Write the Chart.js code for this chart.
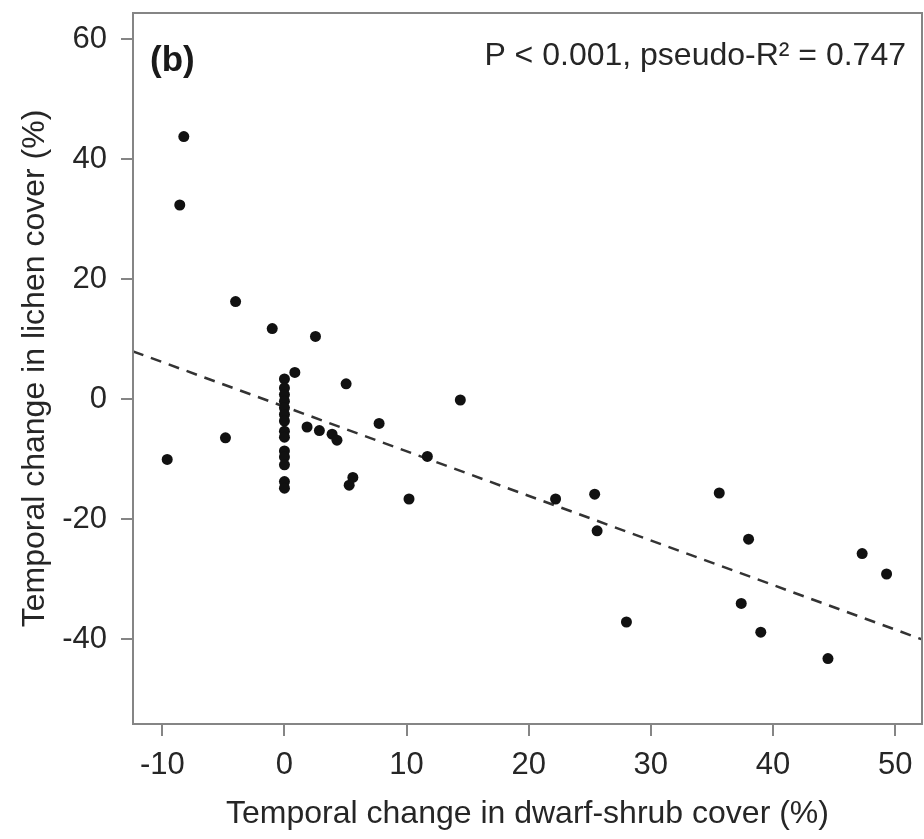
<!DOCTYPE html>
<html>
<head>
<meta charset="utf-8">
<script src="https://cdn.jsdelivr.net/npm/chart.js@4.4.1/dist/chart.umd.min.js"></script>
<style>
  html, body { margin: 0; padding: 0; background: #ffffff; }
  #wrap { width: 924px; height: 839px; }
</style>
</head>
<body>
<div id="wrap"><canvas id="c" width="924" height="839"></canvas></div>
<script>
// ---- data ----
const shrubChange = [
  -8.24, -8.57, -4.0, -1.0, 2.54, 0.85, 5.05, -4.83, -9.6,
  1.85, 2.86, 3.9, 4.3, 5.6, 5.3, 7.75, 14.4, 11.7, 10.2,
  22.2, 25.4, 25.6, 28.0, 35.6, 38.0, 37.4, 39.0, 44.5, 47.3, 49.3,
  0, 0, 0, 0, 0, 0, 0, 0, 0, 0, 0, 0, 0, 0
];
const lichenChange = [
  43.8, 32.4, 16.3, 11.8, 10.5, 4.5, 2.6, -6.4, -10.0,
  -4.6, -5.2, -5.8, -6.8, -13.0, -14.3, -4.0, -0.1, -9.5, -16.6,
  -16.6, -15.8, -21.9, -37.1, -15.6, -23.3, -34.0, -38.8, -43.2, -25.7, -29.1,
  3.4, 1.9, 0.8, -0.3, -1.4, -2.5, -3.6, -5.3, -6.3, -8.6, -9.6, -10.9, -13.7, -14.8
];
const fitX = [-12.4, 52.2];
const fitY = [8.0, -40.0];
const xTicks = [-10, 0, 10, 20, 30, 40, 50];
const yTicks = [-40, -20, 0, 20, 40, 60];
const xTitle = 'Temporal change in dwarf-shrub cover (%)';
const yTitle = 'Temporal change in lichen cover (%)';
const panelLabel = '(b)';
const statsText = 'P < 0.001, pseudo-R\u00B2 = 0.747';

// ---- chart ----
const FAMILY = '"Liberation Sans", Arial, Helvetica, sans-serif';
const AXIS_GREY = '#858585';
const TEXT = '#262626';

const points = shrubChange.map((x, i) => ({ x: x, y: lichenChange[i] }));
const fitLine = fitX.map((x, i) => ({ x: x, y: fitY[i] }));

const frameAndText = {
  id: 'frameAndText',
  afterDraw(chart) {
    const { ctx, chartArea: a } = chart;
    ctx.save();
    ctx.strokeStyle = AXIS_GREY;
    ctx.lineWidth = 2;
    ctx.strokeRect(a.left, a.top, a.right - a.left, a.bottom - a.top);
    ctx.fillStyle = '#1a1a1a';
    ctx.textBaseline = 'alphabetic';
    ctx.textAlign = 'left';
    ctx.font = 'bold 35px ' + FAMILY;
    ctx.fillText(panelLabel, 150, 71);
    ctx.fillStyle = TEXT;
    ctx.textAlign = 'right';
    ctx.font = '32px ' + FAMILY;
    ctx.fillText(statsText, 906, 65);
    ctx.restore();
  }
};

new Chart(document.getElementById('c'), {
  type: 'scatter',
  data: {
    datasets: [
      {
        data: points,
        backgroundColor: '#111111',
        borderWidth: 0,
        pointRadius: 5.5,
        pointHoverRadius: 5.5,
        order: 1
      },
      {
        type: 'line',
        data: fitLine,
        showLine: true,
        borderColor: '#333333',
        borderWidth: 2.5,
        borderDash: [11, 8],
        pointRadius: 0,
        fill: false,
        order: 2
      }
    ]
  },
  options: {
    responsive: false,
    animation: false,
    layout: { autoPadding: false, padding: { top: 13, right: 2, left: 0, bottom: 0 } },
    plugins: { legend: { display: false }, tooltip: { enabled: false } },
    scales: {
      x: {
        type: 'linear',
        min: -12.4,
        max: 52.2,
        afterBuildTicks: s => { s.ticks = xTicks.map(v => ({ value: v })); },
        afterFit: s => { s.height = 115; s.paddingLeft = 0; s.paddingRight = 0; },
        grid: { drawOnChartArea: false, drawTicks: true, tickLength: 12, color: AXIS_GREY, lineWidth: 2 },
        border: { display: true, color: AXIS_GREY, width: 2 },
        ticks: { font: { family: FAMILY, size: 31 }, color: TEXT, padding: 11, maxRotation: 0 },
        title: { display: true, text: xTitle, font: { family: FAMILY, size: 32 }, color: TEXT, padding: { top: 0, bottom: 6 } }
      },
      y: {
        type: 'linear',
        min: -54.1,
        max: 64.4,
        afterBuildTicks: s => { s.ticks = yTicks.map(v => ({ value: v })); },
        afterFit: s => { s.width = 133; s.paddingTop = 0; s.paddingBottom = 0; },
        grid: { drawOnChartArea: false, drawTicks: true, tickLength: 12, color: AXIS_GREY, lineWidth: 2 },
        border: { display: true, color: AXIS_GREY, width: 2 },
        ticks: { font: { family: FAMILY, size: 31 }, color: TEXT, padding: 14 },
        title: { display: true, text: yTitle, font: { family: FAMILY, size: 32 }, color: TEXT, padding: { top: 16, bottom: 0 } }
      }
    }
  },
  plugins: [frameAndText]
});
</script>
</body>
</html>
